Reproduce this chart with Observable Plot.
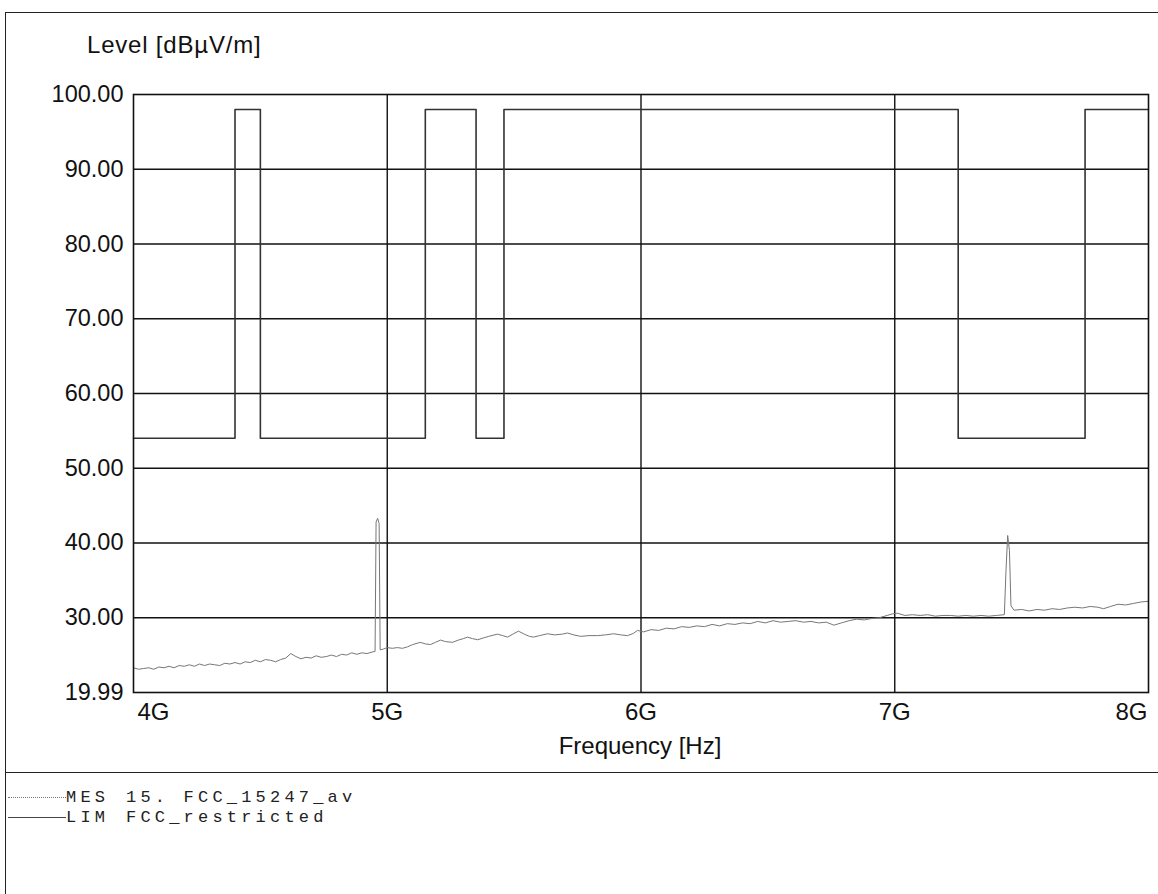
<!DOCTYPE html>
<html><head><meta charset="utf-8">
<script src="https://cdn.jsdelivr.net/npm/d3@7"></script>
<script src="https://cdn.jsdelivr.net/npm/@observablehq/plot@0.6"></script>
<style>
body{margin:0;background:#fff;}
#wrap{position:relative;width:1158px;height:894px;overflow:hidden;font-family:"Liberation Sans",Arial,sans-serif;color:#111;background:#fff;}
#chart{position:absolute;left:0;top:0;}
.abs{position:absolute;white-space:pre;line-height:1;}
.mono{font-family:"Liberation Mono","DejaVu Sans Mono",monospace;font-size:17px;letter-spacing:4.2px;line-height:20px;color:#222;}
</style></head>
<body>
<div id="wrap">
  <div id="chart"></div>
  <div class="abs" style="left:5px;top:12px;width:1153px;height:882px;border-top:1.5px solid #222;border-left:1.5px solid #222;"></div>
  <div class="abs" style="left:5px;top:772px;width:1153px;height:0;border-top:1.5px solid #222;"></div>
  <div class="abs" id="title" style="left:87px;top:33px;font-size:24px;letter-spacing:0.8px;"></div>
  <div class="abs" id="xlabel" style="left:640px;top:734px;font-size:24px;transform:translateX(-50%);"></div>
  <div class="abs" style="left:8px;top:797px;width:58px;height:0;border-top:1.2px dotted #777;"></div>
  <div class="abs" style="left:8px;top:817px;width:58px;height:0;border-top:1.2px solid #444;"></div>
  <div class="abs mono" id="leg1a" style="left:66px;top:788px;"></div>
  <div class="abs mono" id="leg1b" style="left:126px;top:788px;"></div>
  <div class="abs mono" id="leg2a" style="left:66px;top:808px;"></div>
  <div class="abs mono" id="leg2b" style="left:126px;top:808px;"></div>
</div>
<script>
// ---- texts ----
const yTitle = "Level [dBµV/m]";
const xTitle = "Frequency [Hz]";
const legendCodes = ["MES", "LIM"];
const legendNames = ["15. FCC_15247_av", "FCC_restricted"];

// ---- axes ----
const yDomain = [19.99, 100];
const yTicks = [19.99, 30, 40, 50, 60, 70, 80, 90, 100];
const yGrid = [30, 40, 50, 60, 70, 80, 90];
const xDomain = [4, 8];
const xTicks = [4, 5, 6, 7, 8];
const xGrid = [5, 6, 7];

// ---- limit line (FCC restricted), GHz / dBµV/m, stepped ----
const limFreq  = [4.0, 4.4, 4.5, 5.15, 5.35, 5.46, 7.25, 7.75, 8.0];
const limLevel = [54, 98, 54, 98, 54, 98, 54, 98, 98];

// ---- measurement trace (average), GHz / dBµV/m ----
const mesFreq = [
4.000,4.020,4.040,4.060,4.080,4.100,4.120,4.140,4.160,4.180,
4.200,4.220,4.240,4.260,4.280,4.300,4.320,4.340,4.360,4.380,
4.400,4.420,4.440,4.460,4.480,4.500,4.520,4.540,4.560,4.580,
4.600,4.620,4.640,4.660,4.680,4.700,4.720,4.740,4.760,4.780,
4.800,4.820,4.840,4.860,4.880,4.900,4.920,4.940,4.952,4.956,
4.962,4.968,4.972,4.985,5.000,5.020,5.040,5.060,5.080,5.100,
5.130,5.150,5.170,5.190,5.210,5.230,5.257,5.280,5.300,5.316,
5.336,5.356,5.380,5.400,5.434,5.455,5.474,5.495,5.517,5.540,
5.560,5.576,5.600,5.632,5.660,5.690,5.710,5.735,5.762,5.795,
5.829,5.860,5.892,5.920,5.947,5.970,5.986,6.010,6.040,6.070,
6.100,6.130,6.160,6.190,6.220,6.250,6.280,6.310,6.340,6.370,
6.400,6.430,6.460,6.490,6.520,6.550,6.580,6.610,6.640,6.670,
6.700,6.730,6.760,6.790,6.820,6.850,6.880,6.910,6.940,6.970,
6.990,7.010,7.040,7.070,7.100,7.130,7.160,7.190,7.220,7.250,
7.280,7.310,7.340,7.370,7.400,7.432,7.438,7.445,7.452,7.458,
7.470,7.500,7.530,7.560,7.590,7.620,7.650,7.680,7.710,7.740,
7.770,7.800,7.823,7.850,7.880,7.910,7.940,7.970,8.000];
const mesLevel = [
23.3,23.1,23.2,23.3,23.1,23.4,23.3,23.5,23.3,23.6,
23.5,23.7,23.5,23.8,23.6,23.8,23.7,23.6,23.9,23.8,
24.0,23.8,24.1,24.0,24.3,24.1,24.4,24.3,24.1,24.4,
24.6,25.2,24.8,24.5,24.7,24.6,24.9,24.7,24.8,25.0,
24.8,25.1,25.0,25.3,25.1,25.3,25.2,25.4,25.5,42.8,
43.3,42.6,25.7,25.8,26.0,25.9,26.0,25.9,26.1,26.4,
26.7,26.5,26.4,26.7,27.0,26.8,26.7,27.0,27.2,27.4,
27.2,27.05,27.3,27.5,27.8,27.6,27.4,27.8,28.2,27.8,
27.5,27.4,27.6,27.85,27.7,27.8,27.95,27.7,27.5,27.6,
27.6,27.7,27.85,27.7,27.6,27.9,28.3,28.1,28.4,28.3,
28.6,28.5,28.8,28.7,28.9,28.8,29.1,28.9,29.2,29.1,
29.3,29.2,29.5,29.3,29.6,29.4,29.5,29.6,29.4,29.5,
29.3,29.4,29.0,29.3,29.6,29.8,29.7,29.9,30.0,30.3,
30.5,30.6,30.3,30.4,30.3,30.4,30.2,30.3,30.3,30.2,
30.3,30.2,30.3,30.2,30.3,30.4,36.0,41.0,39.0,31.6,
31.0,31.1,30.9,31.1,31.0,31.2,31.1,31.3,31.4,31.3,
31.5,31.4,31.2,31.5,31.8,31.7,31.9,32.1,32.2];

const lim = limFreq.map((f, i) => ({f, v: limLevel[i]}));
const mes = mesFreq.map((f, i) => ({f, v: mesLevel[i]}));

document.getElementById("title").textContent = yTitle;
document.getElementById("xlabel").textContent = xTitle;
document.getElementById("leg1a").textContent = legendCodes[0];
document.getElementById("leg1b").textContent = legendNames[0];
document.getElementById("leg2a").textContent = legendCodes[1];
document.getElementById("leg2b").textContent = legendNames[1];

const gFmt = d => d + "G";
const chart = Plot.plot({
  width: 1158, height: 894,
  marginLeft: 133, marginRight: 10, marginTop: 94, marginBottom: 202,
  x: {domain: xDomain},
  y: {domain: yDomain},
  style: {fontFamily: "'Liberation Sans', Arial, sans-serif", color: "#111", background: "transparent", overflow: "visible"},
  marks: [
    Plot.gridY(yGrid, {stroke: "#111", strokeOpacity: 1, strokeWidth: 1.4}),
    Plot.gridX(xGrid, {stroke: "#111", strokeOpacity: 1, strokeWidth: 1.4}),
    Plot.line(lim, {x: "f", y: "v", curve: "step-after", stroke: "#333", strokeWidth: 1.6}),
    Plot.line(mes, {x: "f", y: "v", stroke: "#777", strokeWidth: 1}),
    Plot.frame({stroke: "#111", strokeWidth: 1.6}),
    Plot.axisY(yTicks, {tickSize: 0, tickPadding: 10, tickFormat: d => d.toFixed(2), fontSize: 23.5, label: null}),
    Plot.axisX([xTicks[0]], {tickSize: 0, tickPadding: 10, textAnchor: "start", dx: 4, tickFormat: gFmt, fontSize: 24, label: null}),
    Plot.axisX(xTicks.slice(1, -1), {tickSize: 0, tickPadding: 10, tickFormat: gFmt, fontSize: 24, label: null}),
    Plot.axisX([xTicks[xTicks.length - 1]], {tickSize: 0, tickPadding: 10, textAnchor: "end", dx: -1, tickFormat: gFmt, fontSize: 24, label: null})
  ]
});
document.getElementById("chart").appendChild(chart);
</script>
</body></html>
